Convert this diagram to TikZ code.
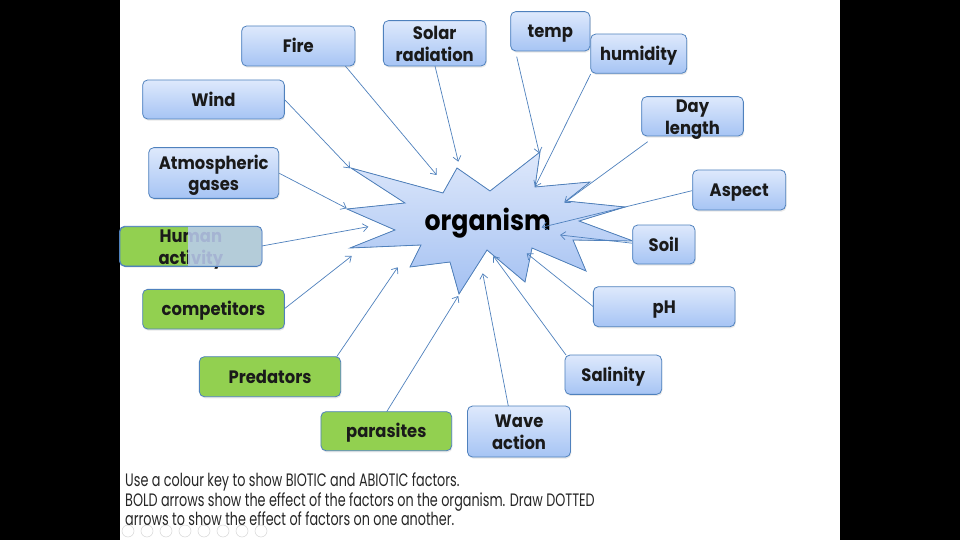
\documentclass[tikz,border=0pt]{standalone}
\usepackage{fontspec}
\setmainfont{Poppins}
\newfontfamily\boxfont[FakeStretch=0.91]{Poppins}
\newfontfamily\orgfont[FakeStretch=0.9]{Poppins}
\newfontfamily\notefont[FakeStretch=0.71]{Poppins}
\usetikzlibrary{arrows.meta,shadows}

\definecolor{edgeblue}{RGB}{79,129,189}
\definecolor{boxtop}{RGB}{222,233,252}
\definecolor{boxbot}{RGB}{166,196,244}
\definecolor{startop}{RGB}{222,232,251}
\definecolor{starbot}{RGB}{164,193,242}
\definecolor{grn}{RGB}{146,208,80}
\definecolor{txt}{RGB}{26,26,26}
\definecolor{veil}{RGB}{186,204,238}
\definecolor{icongray}{RGB}{215,215,215}

\tikzset{
  boxbase/.style={draw=edgeblue, line width=0.8pt, rounded corners=5pt,
    inner sep=0pt, align=center, text=txt,
    font=\boxfont\bfseries\fontsize{18}{21.7}\selectfont,
    drop shadow={opacity=0.18, shadow xshift=0.8pt, shadow yshift=-1.6pt}},
  abiotic/.style={boxbase, top color=boxtop, bottom color=boxbot},
  biotic/.style={boxbase, fill=grn},
  oneline/.style={text height=17pt, text depth=3.6pt},
  twoline/.style={text height=37pt, text depth=1.2pt},
  conn/.style={draw=edgeblue, line width=0.7pt,
    -{Straight Barb[length=5pt,width=8pt]}},
  notetext/.style={anchor=base west, inner sep=0pt, text={rgb,255:red,38;green,38;blue,38},
    font=\notefont\fontsize{18}{20}\selectfont},
}

\begin{document}
\begin{tikzpicture}[x=1pt,y=-1pt]
\useasboundingbox (0,0) rectangle (960,540);
\fill[black] (0,0) rectangle (960,540);
\fill[white] (120,0) rectangle (840,540);

% star
\filldraw[draw=edgeblue, line width=0.8pt, top color=startop, bottom color=starbot]
  (351,168) -- (443,193) -- (457,168) -- (490,191) -- (540,152) -- (535,187)
  -- (590,182) -- (566,201) -- (625,207) -- (579,221) -- (633,241) -- (573,240)
  -- (586,271) -- (532,248) -- (525,282) -- (487,250) -- (459,294) -- (450,262)
  -- (410,267) -- (421,245) -- (350,248) -- (395,230) -- (347,209) -- (405,203) -- cycle;
\node[anchor=base, inner sep=0pt, text=black, font=\orgfont\bfseries\fontsize{28}{30}\selectfont] (org) at (487.7,230) {organism};

% arrow end points
\coordinate (fireA) at (341.7,61.7);   \coordinate (fireB) at (436.7,175);
\coordinate (solarA) at (435,66);      \coordinate (solarB) at (458.3,161.7);
\coordinate (tempA) at (516.7,56.7);   \coordinate (tempB) at (539.3,153.3);
\coordinate (humA) at (590.7,74);      \coordinate (humB) at (535,186.7);
\coordinate (dayA) at (647.7,141.7);   \coordinate (dayB) at (564.3,202.7);
\coordinate (aspA) at (692,190.7);     \coordinate (aspB) at (541.7,227.3);
\coordinate (soilA) at (633,243.3);    \coordinate (soilB) at (560,235);
\coordinate (phA) at (593.3,306.7);    \coordinate (phB) at (526.7,253.3);
\coordinate (salA) at (566,355);       \coordinate (salB) at (493.3,256);
\coordinate (waveA) at (508.3,406);    \coordinate (waveB) at (482.7,273.3);
\coordinate (parA) at (386.7,411.7);   \coordinate (parB) at (458.3,296);
\coordinate (predA) at (336.7,356.7);  \coordinate (predB) at (397.7,267.3);
\coordinate (compA) at (285,308.3);    \coordinate (compB) at (351.7,256);
\coordinate (humanA) at (261.7,246);   \coordinate (humanB) at (368.3,226.7);
\coordinate (atmA) at (279.3,173.3);   \coordinate (atmB) at (346.7,208.3);
\coordinate (windA) at (285,100);      \coordinate (windB) at (350,168.3);

\foreach \a/\b in {fireA/fireB, solarA/solarB, tempA/tempB, humA/humB, dayA/dayB,
  aspA/aspB, soilA/soilB, phA/phB, salA/salB, waveA/waveB, parA/parB, predA/predB,
  compA/compB, humanA/humanB, atmA/atmB, windA/windB}
  \draw[conn] (\a) -- (\b);

% abiotic boxes
\node[abiotic, oneline, minimum width=113.3pt, minimum height=40pt] (fire) at (298.3,46) {Fire};
\node[abiotic, twoline, minimum width=102.7pt, minimum height=45.3pt] (solar) at (434.7,43.3) {Solar\\radiation};
\node[abiotic, oneline, minimum width=79.3pt, minimum height=39.3pt] (temp) at (550.3,31.3) {temp};
\node[abiotic, oneline, minimum width=96pt, minimum height=39.3pt] (humidity) at (638.7,53.7) {humidity};
\node[abiotic, twoline, minimum width=101.7pt, minimum height=39.3pt] (daylength) at (692.5,116.3) {Day\\length};
\node[abiotic, oneline, minimum width=93pt, minimum height=40pt] (aspect) at (739.2,190) {Aspect};
\node[abiotic, oneline, minimum width=62.3pt, minimum height=39pt] (soil) at (663.8,244.5) {Soil};
\node[abiotic, oneline, minimum width=141.7pt, minimum height=40pt] (ph) at (664.2,306.7) {pH};
\node[abiotic, oneline, minimum width=96.7pt, minimum height=39.3pt] (salinity) at (613.3,374.7) {Salinity};
\node[abiotic, twoline, minimum width=103pt, minimum height=51pt] (wave) at (519,431.5) {Wave\\action};
\node[abiotic, twoline, minimum width=130pt, minimum height=50.7pt] (atmos) at (213.7,173) {Atmospheric\\gases};
\node[abiotic, oneline, minimum width=141.7pt, minimum height=39pt] (wind) at (213.5,99.5) {Wind};

% biotic boxes
\node[biotic, oneline, minimum width=130.7pt, minimum height=39pt] (parasites) at (386.3,431.2) {parasites};
\node[biotic, oneline, minimum width=141.3pt, minimum height=40pt] (predators) at (270,376.7) {Predators};
\node[biotic, oneline, minimum width=141.7pt, minimum height=39.7pt] (competitors) at (213.5,309.2) {competitors};
\node[biotic, twoline, minimum width=141.7pt, minimum height=39.3pt] (human) at (190.8,246.3) {Human\\activity};
\begin{scope}
  \clip[rounded corners=5pt] (human.south west) rectangle (human.north east);
  \fill[veil, opacity=0.87] (188.3,220) rectangle (270,270);
\end{scope}
\draw[draw=edgeblue, line width=0.8pt, rounded corners=5pt] (human.south west) rectangle (human.north east);

% note
\node[notetext] (note1) at (125,486) {Use a colour key to show BIOTIC and ABIOTIC factors.};
\node[notetext] (note2) at (125,506) {BOLD arrows show the effect of the factors on the organism. Draw DOTTED};
\node[notetext] (note3) at (125,525) {arrows to show the effect of factors on one another.};

% presentation controls
\foreach \i in {0,...,7}
  \draw[icongray, line width=0.5pt] (128+19*\i,531) circle[radius=6];
\end{tikzpicture}
\end{document}
